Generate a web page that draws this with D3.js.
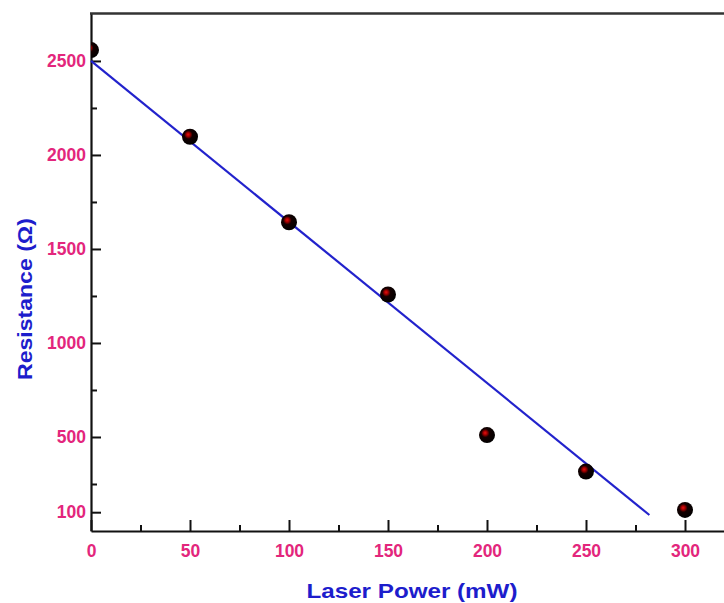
<!DOCTYPE html>
<html>
<head>
<meta charset="utf-8">
<script src="https://cdn.jsdelivr.net/npm/d3@7"></script>
<style>
  html, body { margin: 0; padding: 0; background: #fff; }
  svg { display: block; }
</style>
</head>
<body>
<svg id="chart" width="724" height="603"></svg>
<script>
// ---- data ----
const laserPower = [0, 50, 100, 150, 200, 250, 300];
const resistance = [2558, 2097, 1642, 1258, 510, 316, 112];
const fitPower = [0, 282];
const fitResistance = [2500, 85];
const xMajorTicks = [0, 50, 100, 150, 200, 250, 300];
const xMinorTicks = [25, 75, 125, 175, 225, 275];
const yMajorTicks = [100, 500, 1000, 1500, 2000, 2500];
const yMinorTicks = [250, 750, 1250, 1750, 2250];
const xTitle = "Laser Power (mW)";
const yTitle = "Resistance (\u03A9)";

// ---- layout ----
const W = 724, H = 603;
const mLeft = 91, mTop = 13, mBottom = 531;
const svg = d3.select("#chart");

const x = d3.scaleLinear().domain([0, 320]).range([mLeft, mLeft + 320 * 1.98]);
const y = d3.scaleLinear().domain([0, 2755]).range([mBottom, mTop]);

const labelColor = "#e3267c";
const titleColor = "#1d1dcc";
const font = "'Liberation Sans', Arial, sans-serif";

// gradient for points
const defs = svg.append("defs");
const grad = defs.append("radialGradient").attr("id", "ball")
  .attr("cx", "42%").attr("cy", "40%").attr("r", "62%")
  .attr("fx", "38%").attr("fy", "36%");
grad.append("stop").attr("offset", "0%").attr("stop-color", "#e81010");
grad.append("stop").attr("offset", "20%").attr("stop-color", "#a00000");
grad.append("stop").attr("offset", "42%").attr("stop-color", "#140000");
grad.append("stop").attr("offset", "100%").attr("stop-color", "#000");

defs.append("clipPath").attr("id", "plotClip")
  .append("rect").attr("x", mLeft).attr("y", mTop).attr("width", W - mLeft).attr("height", mBottom - mTop);

// ---- axes ----
const yAxis = svg.append("g").attr("transform", `translate(${mLeft},0)`)
  .call(d3.axisLeft(y).tickValues(yMajorTicks).tickSizeInner(-10).tickSizeOuter(0).tickPadding(5).tickFormat(d3.format("d")));
const yMinor = svg.append("g").attr("transform", `translate(${mLeft},0)`)
  .call(d3.axisLeft(y).tickValues(yMinorTicks).tickSizeInner(-6).tickSizeOuter(0).tickFormat(""));

const xAxis = svg.append("g").attr("transform", `translate(0,${mBottom})`)
  .call(d3.axisBottom(x).tickValues(xMajorTicks).tickSizeInner(-11).tickSizeOuter(0).tickPadding(14).tickFormat(d3.format("d")));
const xMinor = svg.append("g").attr("transform", `translate(0,${mBottom})`)
  .call(d3.axisBottom(x).tickValues(xMinorTicks).tickSizeInner(-6).tickSizeOuter(0).tickFormat(""));

[yAxis, yMinor, xAxis, xMinor].forEach(g => {
  g.select(".domain").attr("stroke", "#111").attr("stroke-width", 2.2);
  g.selectAll(".tick line").attr("stroke", "#111").attr("stroke-width", 2);
  g.selectAll(".tick text").attr("fill", labelColor)
    .style("font-family", font).style("font-weight", "bold").style("font-size", "17.5px");
});
yMinor.select(".domain").remove();
xMinor.select(".domain").remove();

// top border
svg.append("line").attr("x1", mLeft - 1).attr("x2", W).attr("y1", mTop + 0.5).attr("y2", mTop + 0.5)
  .attr("stroke", "#333").attr("stroke-width", 2.6);

// ---- fit line ----
const lineGen = d3.line().x((d, i) => x(fitPower[i])).y(d => y(d));
svg.append("path").datum(fitResistance)
  .attr("d", lineGen).attr("fill", "none")
  .attr("stroke", "#2222cc").attr("stroke-width", 2.2);

// ---- points ----
svg.append("g").attr("clip-path", "url(#plotClip)")
  .selectAll("circle").data(laserPower).join("circle")
  .attr("cx", d => x(d)).attr("cy", (d, i) => y(resistance[i]))
  .attr("r", 8).attr("fill", "url(#ball)");

// ---- titles ----
svg.append("text").attr("x", 412).attr("y", 598)
  .attr("text-anchor", "middle").attr("fill", titleColor)
  .style("font-family", font).style("font-weight", "bold").style("font-size", "21px")
  .attr("textLength", 211).attr("lengthAdjust", "spacingAndGlyphs")
  .text(xTitle);

svg.append("text").attr("transform", "translate(32,299) rotate(-90)")
  .attr("text-anchor", "middle").attr("fill", titleColor)
  .style("font-family", font).style("font-weight", "bold").style("font-size", "21px")
  .attr("textLength", 162).attr("lengthAdjust", "spacingAndGlyphs")
  .text(yTitle);
</script>
</body>
</html>
